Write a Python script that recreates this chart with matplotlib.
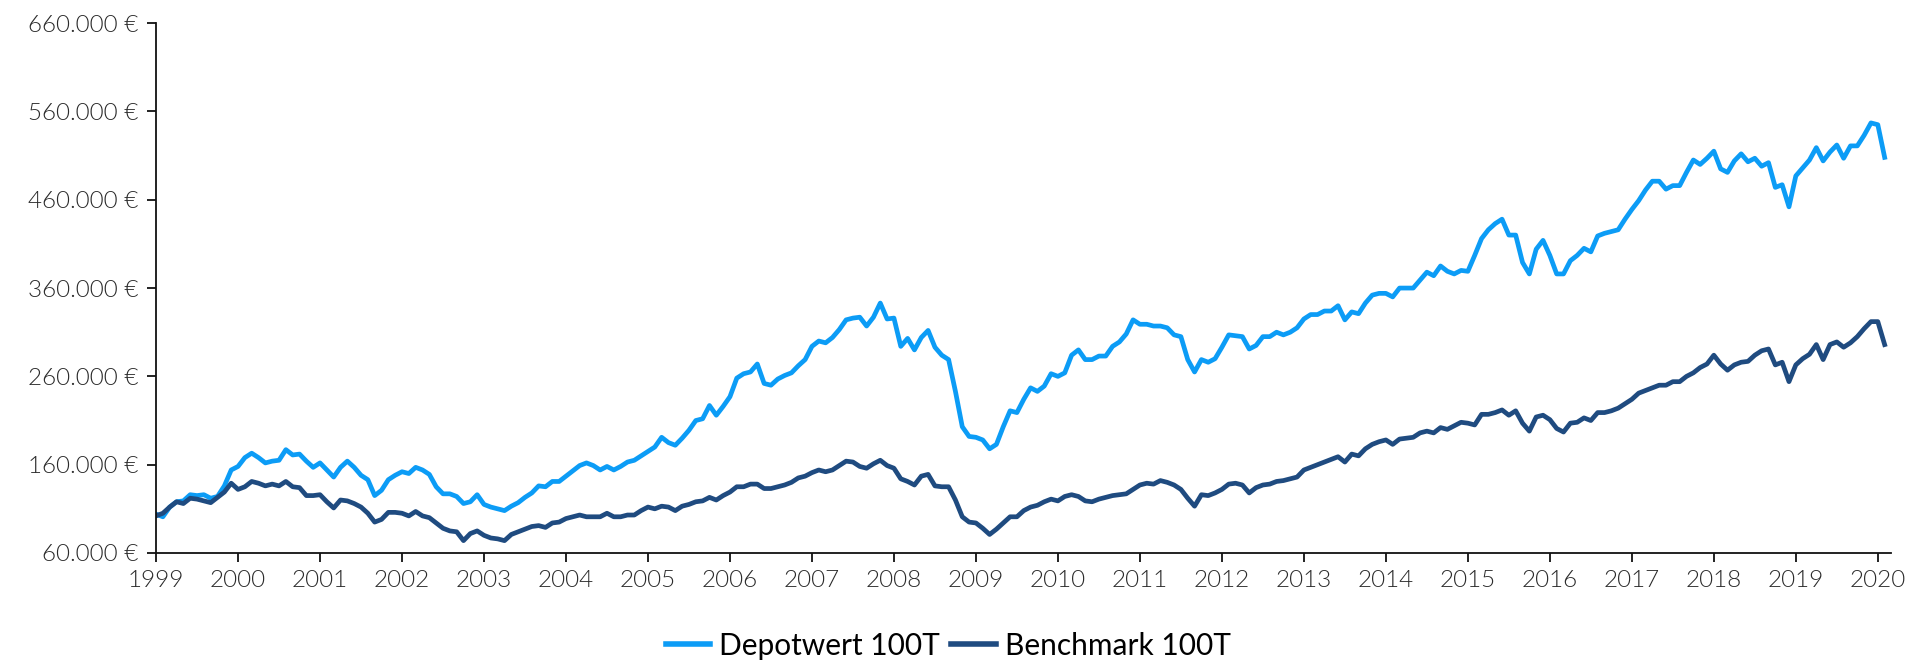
import numpy as np
import matplotlib
matplotlib.use("Agg")
import matplotlib.pyplot as plt
from matplotlib.ticker import FuncFormatter

# monthly values in thousand EUR, Jan 1999 .. Feb 2020
depot_k = [
    104, 101, 112, 118, 119, 126, 125, 126, 122, 124, 136, 154, 158, 168, 173, 168, 162, 164, 165, 177, 171, 172,
    164, 157, 162, 154, 146, 157, 164, 157, 148, 143, 125, 131, 143, 148, 152, 150, 157, 154, 149, 135, 127,
    127, 124, 116, 118, 126, 115, 112, 110, 108, 113, 117, 123, 128, 136, 135, 141, 141, 147, 153, 159, 162, 159,
    154, 158, 154, 158, 163, 165, 170, 175, 180, 191, 185, 182, 190, 199, 210, 212, 227, 216, 226, 237, 258,
    263, 265, 274, 252, 250, 257, 261, 264, 272, 279, 294, 300, 298, 304, 313, 324, 326, 327, 317, 327, 343,
    325, 326, 294, 303, 290, 304, 312, 293, 284, 279, 243, 203, 192, 191, 188, 178, 183, 203, 221, 219, 234,
    247, 243, 249, 263, 260, 264, 284, 290, 279, 279, 283, 283, 294, 299, 308, 324, 319, 319, 317, 317, 315,
    307, 305, 279, 265, 279, 276, 280, 293, 307, 306, 305, 291, 295, 305, 305, 310, 307, 310, 315, 325, 330,
    330, 334, 334, 340, 324, 333, 331, 343, 352, 354, 354, 350, 360, 360, 360, 369, 378, 374, 385, 379, 376,
    380, 379, 397, 416, 426, 433, 438, 420, 420, 389, 376, 404, 414, 397, 376, 376, 391, 397, 405, 401, 419, 422,
    424, 426, 438, 449, 459, 471, 481, 481, 472, 476, 476, 491, 505, 500, 507, 515, 495, 491, 504, 512, 503,
    507, 498, 502, 474, 477, 452, 487, 496, 505, 519, 504, 514, 522, 507, 521, 521, 533, 547, 545, 508,
]
bench_k = [
    102, 105, 112, 118, 116, 122, 121, 119, 117, 123, 129, 139, 132, 135, 141, 139, 136, 138, 136, 141, 135, 134,
    125, 125, 126, 118, 111, 120, 119, 116, 112, 105, 95, 98, 106, 106, 105, 102, 107, 102, 100, 94, 88,
    85, 84, 74, 82, 85, 80, 77, 76, 74, 81, 84, 87, 90, 91, 89, 94, 95, 99, 101, 103, 101, 101, 101, 105, 101,
    101, 103, 103, 108, 112, 110, 113, 112, 108, 113, 115, 118, 119, 123, 120, 125, 129, 135,
    135, 138, 138, 133, 133, 135, 137, 140, 145, 147, 151, 154, 152, 154, 159, 164, 163, 158, 156, 161, 165,
    159, 156, 144, 141, 137, 147, 149, 136, 135, 135, 120, 101, 95, 94, 88, 81, 87, 94, 101, 101, 108,
    112, 114, 118, 121, 119, 124, 126, 124, 119, 118, 121, 123, 125, 126, 127, 132, 137, 139, 138, 142, 140,
    137, 132, 122, 113, 126, 125, 128, 132, 138, 139, 137, 128, 134, 137, 138, 141, 142, 144, 146, 154, 157,
    160, 163, 166, 169, 163, 172, 170, 178, 183, 186, 188, 183, 189, 190, 191, 196, 198, 196, 202, 200, 204,
    208, 207, 205, 217, 217, 219, 222, 216, 221, 207, 198, 214, 216, 211, 201, 197, 207, 208, 213, 210, 219, 219,
    221, 224, 229, 234, 241, 244, 247, 250, 250, 254, 254, 260, 264, 270, 274, 284, 274, 267, 273, 276, 277,
    284, 289, 291, 273, 276, 254, 273, 280, 285, 296, 279, 296, 299, 293, 298, 305, 314, 322, 322, 296,
]
start_year = 1999
year_ticks = list(range(1999, 2021))
y_ticks = [60000, 160000, 260000, 360000, 460000, 560000, 660000]
labels = ["Depotwert 100T", "Benchmark 100T"]
colors = ["#0c9cf6", "#1f4b80"]

depot = np.array(depot_k) * 1000
bench = np.array(bench_k) * 1000
t = start_year + np.arange(len(depot)) / 12.0

plt.rcParams["font.family"] = ["Lato", "DejaVu Sans"]

fig = plt.figure(figsize=(19.17, 6.61), dpi=100)
ax = fig.add_axes([0.0814, 0.1634, 0.905, 0.8016])

ax.plot(t, depot, color=colors[0], lw=3.4, label=labels[0], solid_joinstyle="round")
ax.plot(t, bench, color=colors[1], lw=3.4, label=labels[1], solid_joinstyle="round")

ax.set_xlim(1999, 2020.16)
ax.set_ylim(60000, 660000)
ax.set_xticks(year_ticks)
ax.set_xticklabels([str(y) for y in year_ticks])
ax.set_yticks(y_ticks)
ax.yaxis.set_major_formatter(FuncFormatter(lambda v, p: f"{v:,.0f}".replace(",", ".") + " €"))

for side in ["top", "right"]:
    ax.spines[side].set_visible(False)
for side in ["left", "bottom"]:
    ax.spines[side].set_linewidth(1.3)
    ax.spines[side].set_color("#111111")
ax.tick_params(direction="out", length=6.5, width=1.3, color="#111111",
               labelsize=17.5, labelcolor="#2b2b2b", pad=6)
for lab in ax.get_xticklabels() + ax.get_yticklabels():
    lab.set_fontweight(300)

leg = ax.legend(loc="center", bbox_to_anchor=(0.4565, -0.175), ncol=2, frameon=False,
                prop={"family": ["Liberation Sans Narrow", "Lato"], "size": 21.5},
                handlelength=1.5, handletextpad=0.28, columnspacing=0.4)
for line in leg.get_lines():
    line.set_linewidth(4)

fig.savefig("out.png", dpi=100)
